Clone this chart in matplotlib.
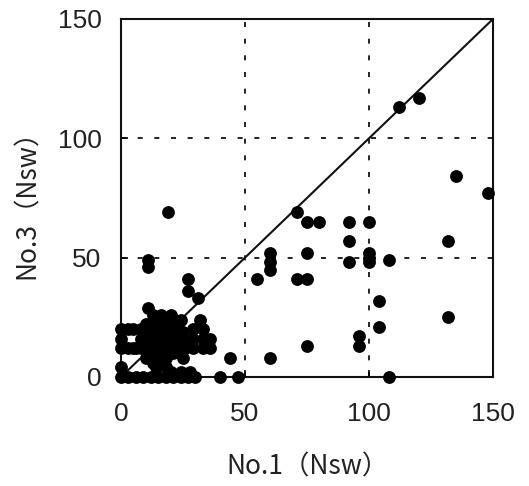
import matplotlib
matplotlib.use('Agg')
import matplotlib.pyplot as plt

plt.rcParams['font.family'] = ['Liberation Sans', 'DejaVu Sans']

# No.1 (x) and No.3 (y) counts
no1 = [112, 120, 135, 148, 132, 132, 108, 104, 104, 108,
       100, 100, 100, 100, 71, 75, 80, 92, 92, 92,
       60, 60, 60, 55, 75, 71, 75, 96, 96, 75,
       60, 44, 47, 40, 19, 11, 11, 27, 27, 31,
       11, 0, 0, 0, 0, 0, 3, 6, 9, 12,
       15, 18, 21, 24, 27, 30, 5, 5, 8, 8,
       8, 10, 10, 10, 10, 12, 12, 12, 14, 14,
       14, 15, 16, 16, 17, 18, 18, 19, 20, 20,
       21, 22, 22, 29, 33, 29, 33, 36, 29, 33,
       36, 20, 24, 28, 25, 25, 3, 3, 6, 13,
       16, 20, 23, 24, 26, 22, 18, 13, 16, 25,
       32, 14, 18]
no3 = [113, 117, 84, 77, 57, 25, 49, 32, 21, 0,
       65, 52, 50, 48, 69, 65, 65, 65, 57, 48,
       52, 48, 45, 41, 52, 41, 41, 17, 13, 13,
       8, 8, 0, 0, 69, 49, 46, 41, 36, 33,
       29, 0, 4, 12, 16, 20, 0, 0, 0, 0,
       0, 0, 0, 0, 0, 0, 20, 12, 20, 16,
       12, 22, 17, 12, 8, 20, 15, 10, 24, 18,
       12, 8, 20, 15, 22, 12, 18, 24, 15, 20,
       10, 17, 22, 20, 20, 16, 16, 16, 12, 12,
       12, 2, 2, 2, 15, 19, 20, 12, 12, 26,
       26, 26, 20, 24, 12, 12, 8, 6, 10, 8,
       24, 4, 4]

ticks = [0, 50, 100, 150]

fig = plt.figure(figsize=(5.29, 4.86), dpi=100)
ax = fig.add_axes([0.2287, 0.2243, 0.7033, 0.7367])

ax.plot([0, 150], [0, 150], color='#111111', lw=1.5, zorder=2)
ax.scatter(no1, no3, s=85, color='black', zorder=3, clip_on=False, linewidths=0)

ax.set_xlim(0, 150)
ax.set_ylim(0, 150)
ax.set_xticks(ticks)
ax.set_yticks(ticks)
for v in [50, 100]:
    ax.axvline(v, color='black', lw=1.2, ls=(0, (3, 7)), zorder=1)
    ax.axhline(v, color='black', lw=1.2, ls=(0, (3, 7)), zorder=1)

for sp in ax.spines.values():
    sp.set_linewidth(1.5)
    sp.set_color('#111111')
ax.tick_params(direction='in', length=5, width=1.2, labelsize=19,
               labelcolor='#222222')
ax.tick_params(axis='x', pad=18)
ax.tick_params(axis='y', pad=14)

ax.set_xlabel('No.1（Nsw）', family=['Noto Sans CJK JP', 'DejaVu Sans'],
              fontsize=19, color='#222222', labelpad=20)
ax.set_ylabel('No.3（Nsw）', family=['Noto Sans CJK JP', 'DejaVu Sans'],
              fontsize=19, color='#222222', labelpad=12)

fig.savefig('out.png', dpi=100)
